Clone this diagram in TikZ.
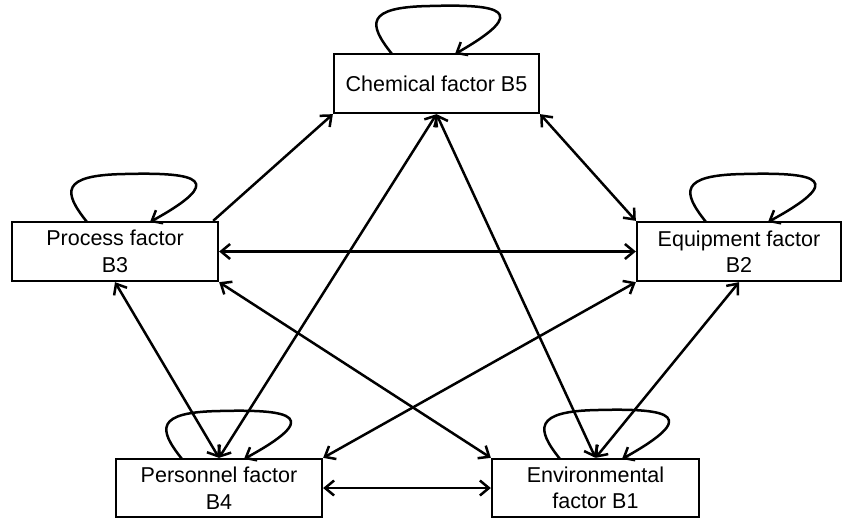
\documentclass[tikz,border=0pt]{standalone}
\usepackage{fontspec}
\setmainfont{Liberation Sans}
\usetikzlibrary{arrows.meta}
\begin{document}
\begin{tikzpicture}[x=1pt,y=-1pt,
  box/.style={draw, line width=2.3pt, inner sep=0pt, align=center,
    font=\fontsize{21.5}{26.5}\selectfont},
  conn/.style={line width=2.5pt, {Straight Barb[length=9pt,width=15pt,line width=2.5pt]}-{Straight Barb[length=9pt,width=15pt,line width=2.5pt]}},
  oneway/.style={line width=2.5pt, -{Straight Barb[length=9pt,width=15pt,line width=2.5pt]}},
  selfloop/.style={line width=2.5pt, -{Straight Barb[length=9pt,width=15pt,line width=2.5pt]}}]
\useasboundingbox (0,0) rectangle (842,519);
\node[box, minimum width=205pt, minimum height=59pt] (b5) at (436.5,83.5) {Chemical factor B5};
\node[box, minimum width=206pt, minimum height=59pt] (b3) at (115,251.5) {Process factor\\B3};
\node[box, minimum width=204pt, minimum height=59pt] (b2) at (739,251.5) {Equipment factor\\B2};
\node[box, minimum width=206pt, minimum height=58pt] (b4) at (219,488) {Personnel factor\\B4};
\node[box, minimum width=207pt, minimum height=58pt] (b1) at (595.5,488) {Environmental\\factor B1};
% connectors
\draw[oneway] ([xshift=-6pt]b3.north east) -- (b5.south west);
\draw[conn] (b5.south east) -- (b2.north west);
\draw[conn] (b3.east) -- (b2.west);
\draw[conn] (b3.south) -- (b4.north);
\draw[conn] (b3.south east) -- (b1.north west);
\draw[conn] (b5.south) -- (b4.north);
\draw[conn] (b5.south) -- (b1.north);
\draw[conn] (b2.south west) -- (b4.north east);
\draw[conn] (b2.south) -- (b1.north);
\draw[conn] (b4.east) -- (b1.west);
% self loops
\draw[selfloop] (392,54) .. controls (368,24) and (365,7) .. (430,6) .. controls (500,4) and (532,10) .. (455,54);
\draw[selfloop] (87,222) .. controls (63,192) and (60,175) .. (125,174) .. controls (200,172) and (226,180) .. (150,222);
\draw[selfloop] (706,222) .. controls (682,192) and (679,175) .. (744,174) .. controls (820,172) and (845,180) .. (768,222);
\draw[selfloop] (182,459) .. controls (158,429) and (155,412) .. (220,411) .. controls (295,409) and (321,417) .. (244,459);
\draw[selfloop] (560,459) .. controls (536,429) and (533,411) .. (598,410) .. controls (673,408) and (699,416) .. (622,459);
\end{tikzpicture}
\end{document}
